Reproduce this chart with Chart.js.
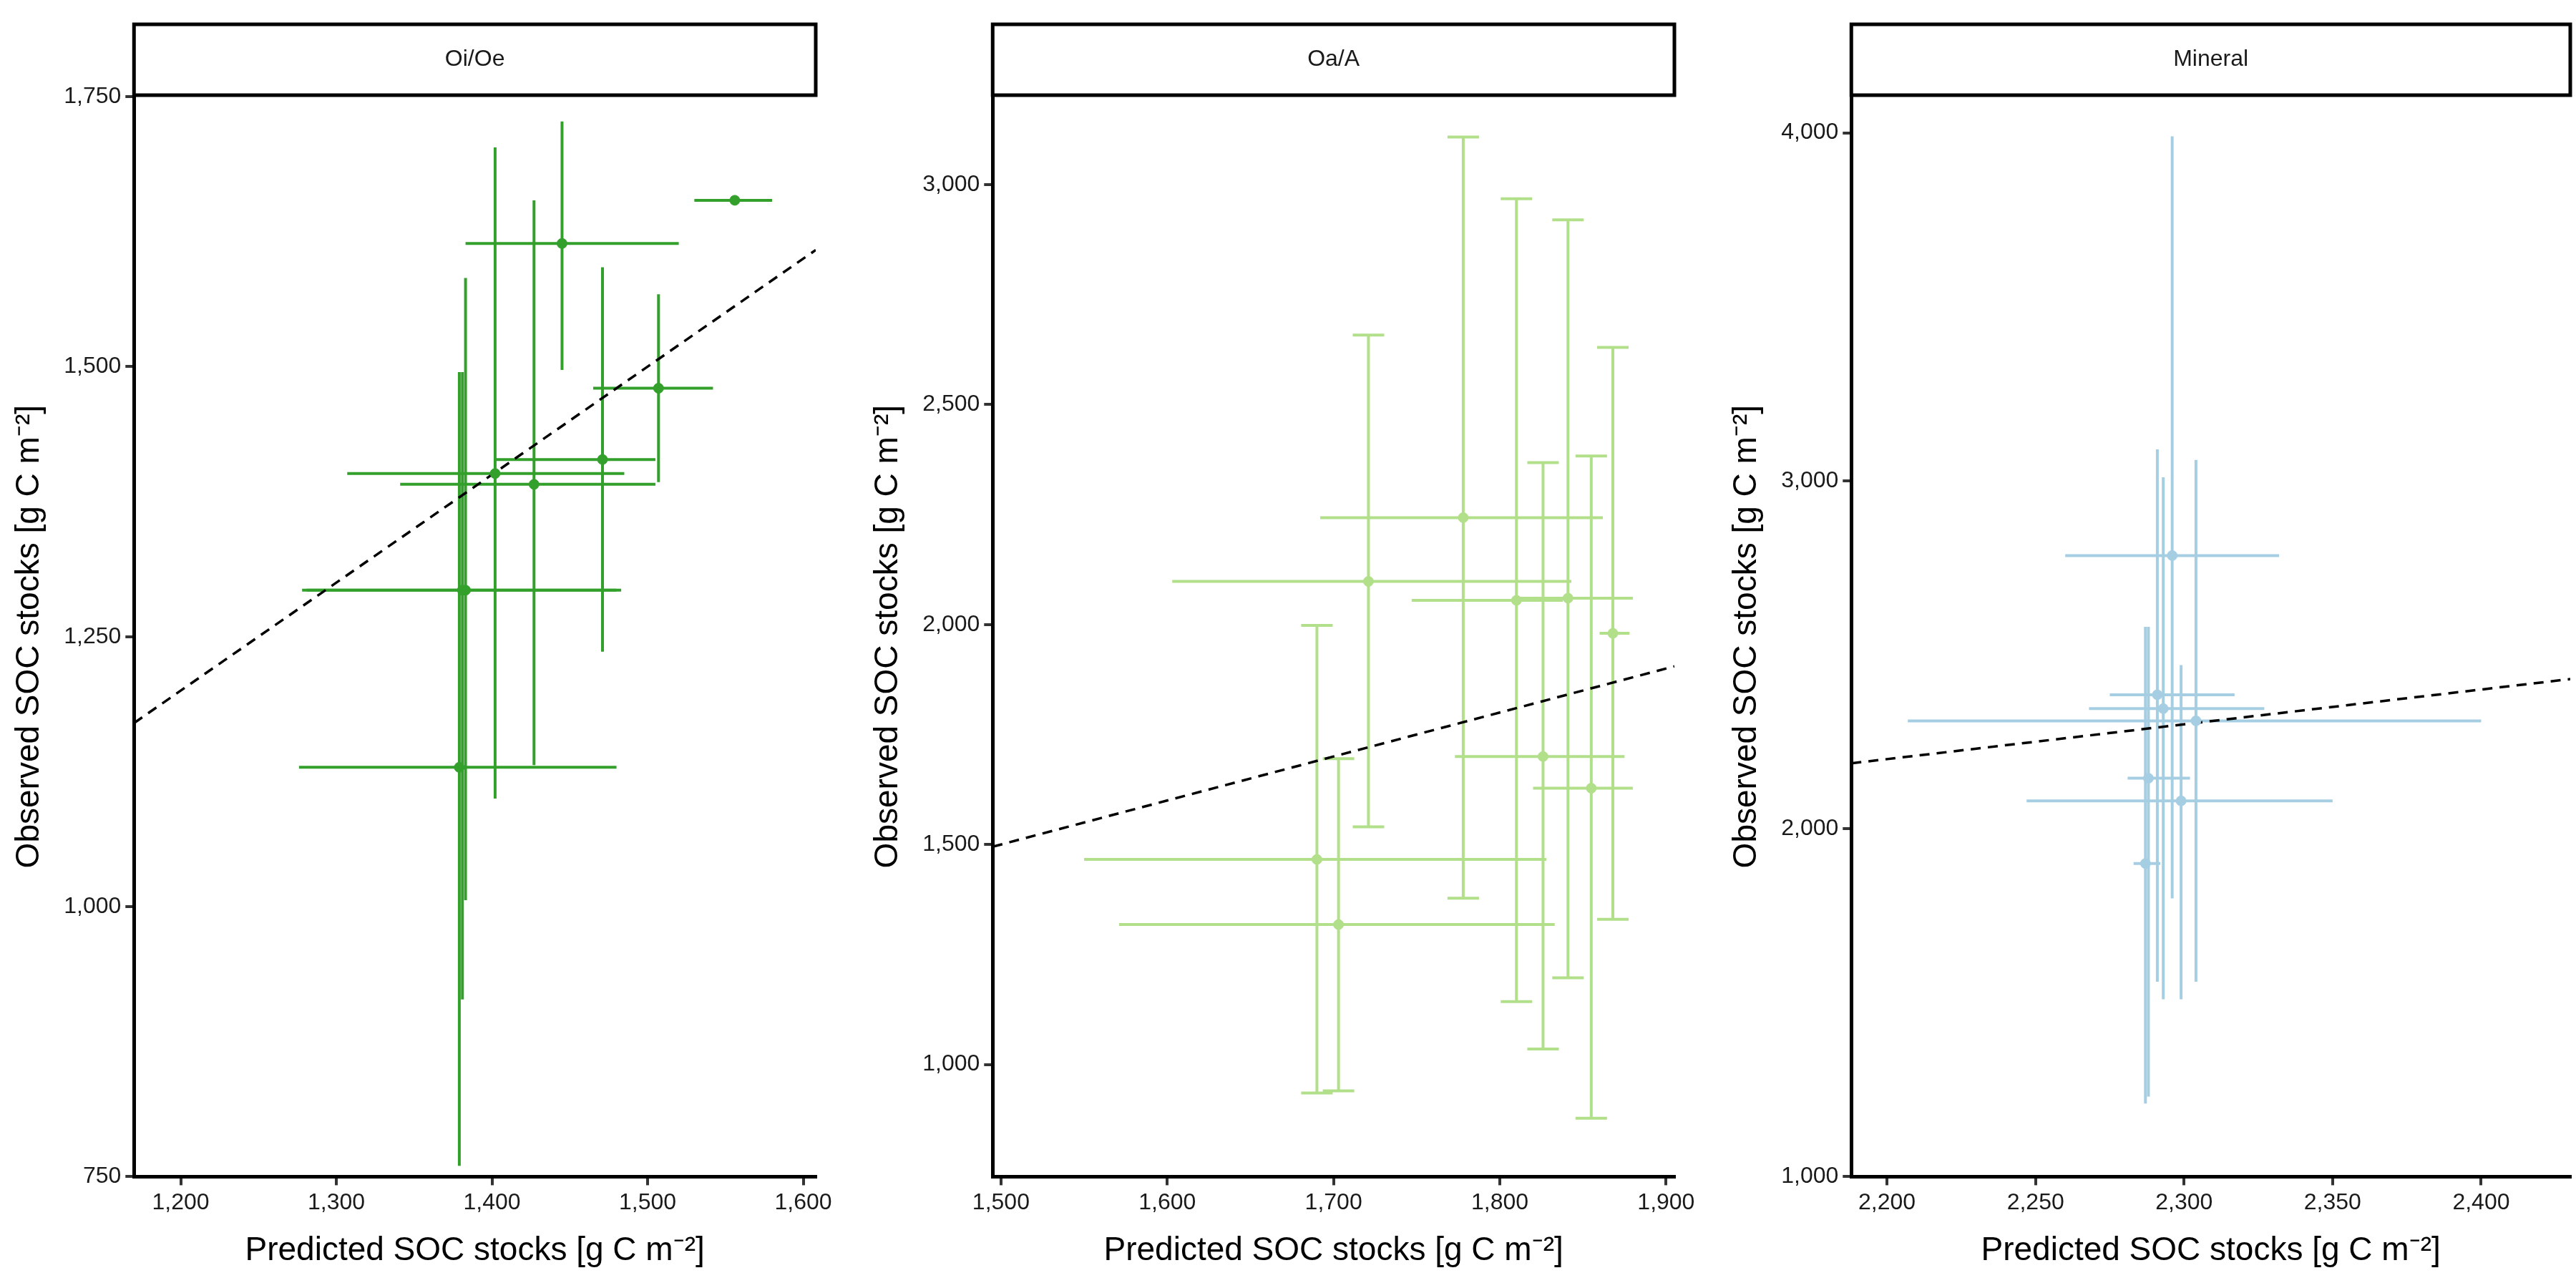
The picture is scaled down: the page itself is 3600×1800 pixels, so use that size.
<!DOCTYPE html>
<html><head><meta charset="utf-8">
<script src="https://cdn.jsdelivr.net/npm/chart.js@4"></script>
<style>body{margin:0;background:#fff;width:3600px;height:1800px;display:flex}
.p{width:1200px;height:1800px;position:relative}</style></head>
<body>
<div class="p"><canvas id="c0" width="1200" height="1800"></canvas></div>
<div class="p"><canvas id="c1" width="1200" height="1800"></canvas></div>
<div class="p"><canvas id="c2" width="1200" height="1800"></canvas></div>
<script>
const panelNames = ["Oi/Oe", "Oa/A", "Mineral"];
const colors = ["#33a02c", "#b2df8a", "#a6cee3"];
// Oi/Oe
const oiPred = [1556,1445,1507,1471,1402,1427,1383,1381,1379];
const oiPredLo = [1530,1383,1465,1402,1307,1341,1281,1278,1276];
const oiPredHi = [1580,1520,1542,1505,1485,1505,1483,1480,1480];
const oiObs = [1654,1614,1480,1414,1401,1391,1293,1293,1129];
const oiObsLo = [1654,1497,1393,1236,1100,1131,1006,914,760];
const oiObsHi = [1654,1727,1567,1592,1703,1654,1582,1495,1495];
// Oa/A
const oaPred = [1778,1721,1810,1841,1868,1826,1855,1690,1703];
const oaPredLo = [1692,1603,1747,1808,1860,1773,1820,1550,1571];
const oaPredHi = [1862,1843,1838,1880,1878,1875,1880,1828,1833];
const oaObs = [2243,2098,2055,2060,1980,1700,1628,1466,1318];
const oaObsLo = [1378,1540,1143,1197,1330,1035,878,935,940];
const oaObsHi = [3108,2658,2968,2920,2630,2368,2383,1998,1695];
// Mineral
const mnPred = [2296,2291,2293,2304,2288,2299,2287];
const mnPredLo = [2260,2275,2268,2207,2281,2247,2283];
const mnPredHi = [2332,2317,2327,2400,2302,2350,2292];
const mnObs = [2785,2385,2345,2310,2145,2080,1900];
const mnObsLo = [1800,1560,1510,1560,1230,1510,1210];
const mnObsHi = [3990,3090,3010,3060,2580,2470,2580];
// axes
const xTicks = [[1200,1300,1400,1500,1600],[1500,1600,1700,1800,1900],[2200,2250,2300,2350,2400]];
const yTicks = [[750,1000,1250,1500,1750],[1000,1500,2000,2500,3000],[1000,2000,3000,4000]];
const xRange = [[1170,1608],[1495,1905],[2188,2430]];
const yRange = [[750,1750],[745,3200],[1000,4104]];
const caps = [false,true,false];

const sets = [
 [oiPred,oiPredLo,oiPredHi,oiObs,oiObsLo,oiObsHi],
 [oaPred,oaPredLo,oaPredHi,oaObs,oaObsLo,oaObsHi],
 [mnPred,mnPredLo,mnPredHi,mnObs,mnObsLo,mnObsHi]];

const errPlugin = {
  id:'err',
  beforeDatasetsDraw(chart, args, opts){
    const [px,pl,ph,oy,ol,oh] = opts.d;
    const xs=chart.scales.x, ys=chart.scales.y, ctx=chart.ctx;
    ctx.save(); ctx.strokeStyle=opts.color; ctx.lineWidth=4;
    const a=chart.chartArea; ctx.beginPath(); ctx.rect(a.left,a.top,a.right-a.left,a.bottom-a.top); ctx.clip();
    for(let i=0;i<px.length;i++){
      const x=xs.getPixelForValue(px[i]), y=ys.getPixelForValue(oy[i]);
      const x1=xs.getPixelForValue(pl[i]), x2=xs.getPixelForValue(ph[i]);
      const y1=ys.getPixelForValue(ol[i]), y2=ys.getPixelForValue(oh[i]);
      ctx.beginPath(); ctx.moveTo(x1,y); ctx.lineTo(x2,y); ctx.moveTo(x,y1); ctx.lineTo(x,y2);
      if(opts.caps){ const c=22; ctx.moveTo(x-c,y1);ctx.lineTo(x+c,y1);ctx.moveTo(x-c,y2);ctx.lineTo(x+c,y2); }
      ctx.stroke();
    }
    ctx.restore();
  },
  afterDraw(chart, args, opts){
    const ctx=chart.ctx, a=chart.chartArea;
    ctx.save(); ctx.lineWidth=5; ctx.strokeStyle='#000'; ctx.fillStyle='#fff';
    const top=34, h=a.top-top-2;
    ctx.fillRect(a.left,top,a.right-a.left,h); ctx.strokeRect(a.left,top,a.right-a.left,h);
    ctx.fillStyle='#1a1a1a'; ctx.font='32px Liberation Sans, Arial'; ctx.textAlign='center'; ctx.textBaseline='middle';
    ctx.fillText(opts.name,(a.left+a.right)/2,top+h/2);
    ctx.restore();
  }
};

for(let k=0;k<3;k++){
  const [px,,, oy] = sets[k];
  const pts = px.map((v,i)=>({x:v,y:oy[i]}));
  const xr=xRange[k], yr=yRange[k];
  const tickFix = t => (ax)=>{ ax.ticks = t.map(v=>({value:v})); };
  new Chart(document.getElementById('c'+k),{
    type:'scatter',
    data:{datasets:[
      {data:pts, backgroundColor:colors[k], borderColor:colors[k], pointRadius:7, pointHoverRadius:7},
      {type:'line', data:[{x:xr[0],y:xr[0]},{x:xr[1],y:xr[1]}], borderColor:'#000', borderWidth:3.5, borderDash:[14,10], pointRadius:0, fill:false}
    ]},
    options:{
      responsive:false, animation:false, devicePixelRatio:1,
      layout:{padding:{top:135,right:k==2?0:60,left:10,bottom:20}},
      plugins:{legend:{display:false},tooltip:{enabled:false},
        err:{d:sets[k],color:colors[k],caps:caps[k],name:panelNames[k]}},
      scales:{
        x:{type:'linear',min:xr[0],max:xr[1],afterBuildTicks:tickFix(xTicks[k]),
          grid:{drawOnChartArea:false,tickLength:12,color:'#333',lineWidth:4},
          border:{color:'#000',width:5},
          ticks:{color:'#1a1a1a',font:{size:32,family:'Liberation Sans, Arial'},padding:6},
          title:{display:true,text:'Predicted SOC stocks [g C m\u207B\u00B2]',color:'#000',font:{size:46,family:'Liberation Sans, Arial'},padding:{top:14}}},
        y:{type:'linear',min:yr[0],max:yr[1],afterBuildTicks:tickFix(yTicks[k]),
          grid:{drawOnChartArea:false,tickLength:12,color:'#333',lineWidth:4},
          border:{color:'#000',width:5},
          ticks:{color:'#1a1a1a',font:{size:32,family:'Liberation Sans, Arial'},padding:6},
          title:{display:true,text:'Observed SOC stocks [g C m\u207B\u00B2]',color:'#000',font:{size:46,family:'Liberation Sans, Arial'},padding:{bottom:14}}}
      }
    },
    plugins:[errPlugin]
  });
}
</script></body></html>
